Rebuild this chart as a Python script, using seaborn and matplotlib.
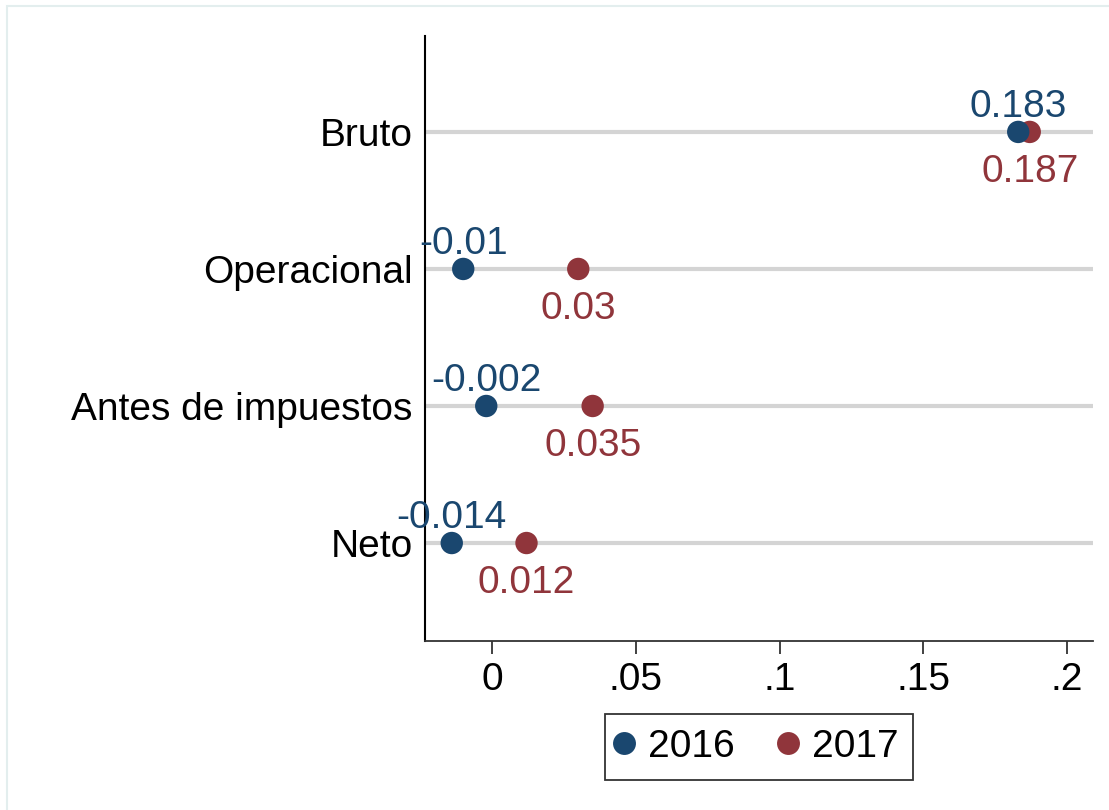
import numpy as np
import pandas as pd
import matplotlib.pyplot as plt
import matplotlib.patches as mpatches
from matplotlib.lines import Line2D
import seaborn as sns

# Datos del gráfico
categorias = ["Bruto", "Operacional", "Antes de impuestos", "Neto"]
valores_2016 = [0.183, -0.01, -0.002, -0.014]
valores_2017 = [0.187, 0.03, 0.035, 0.012]
etiquetas_2016 = ["0.183", "-0.01", "-0.002", "-0.014"]
etiquetas_2017 = ["0.187", "0.03", "0.035", "0.012"]
anios = ["2016", "2017"]
colores = {"2016": "#1a476f", "2017": "#90353b"}

xticks = [0, 0.05, 0.1, 0.15, 0.2]
xtick_labels = ["0", ".05", ".1", ".15", ".2"]

sns.set_theme(style="white")
plt.rcParams['font.family'] = ['Liberation Sans', 'DejaVu Sans']
plt.rcParams['text.color'] = 'black'

# 2017 primero para que 2016 quede encima
pos = {c: i for i, c in enumerate(categorias)}
df = pd.concat([
    pd.DataFrame({"cat": categorias, "valor": valores_2017, "anio": "2017", "etq": etiquetas_2017}),
    pd.DataFrame({"cat": categorias, "valor": valores_2016, "anio": "2016", "etq": etiquetas_2016}),
], ignore_index=True)
df["pos"] = df["cat"].map(pos)

fig = plt.figure(figsize=(11.09, 8.10), dpi=100)
ax = fig.add_axes([425 / 1109, 1 - 641 / 810, (1093 - 425) / 1109, (641 - 36) / 810])

sns.scatterplot(data=df, x="valor", y="pos", hue="anio", hue_order=anios,
                palette=colores, s=260, linewidth=0, legend=False, ax=ax, zorder=3)

# Etiquetas de los puntos
for _, r in df.iterrows():
    if r["anio"] == "2016":
        off = 11
    else:
        off = -36
    ax.annotate(r["etq"], (r["valor"], r["pos"]), xytext=(0, off),
                textcoords="offset points", ha="center", va="baseline",
                fontsize=28, color=colores[r["anio"]], annotation_clip=False, zorder=4)

ax.set_xlim(-0.0233, 0.209)
ax.set_ylim(3.715, -0.70)
ax.set_yticks(range(len(categorias)))
ax.set_yticklabels(categorias)
ax.set_xticks(xticks)
ax.set_xticklabels(xtick_labels)
ax.set_xlabel("")
ax.set_ylabel("")

ax.set_axisbelow(True)
ax.yaxis.grid(True, color="#d4d4d4", linewidth=3)
ax.xaxis.grid(False)

sns.despine(ax=ax, top=True, right=True)
ax.spines["left"].set_color("black")
ax.spines["left"].set_linewidth(1.5)
ax.spines["bottom"].set_color("#333333")
ax.spines["bottom"].set_linewidth(1.3)

ax.tick_params(axis="y", length=0, pad=9, labelsize=28, colors="black")
ax.tick_params(axis="x", direction="out", length=9, width=1.3, color="#333333",
               pad=6, labelsize=28, labelcolor="black", bottom=True)

# Leyenda
handles = [Line2D([], [], marker="o", linestyle="", markersize=16.5,
                  markerfacecolor=colores[a], markeredgewidth=0) for a in anios]
leg = ax.legend(handles, anios, loc="center", bbox_to_anchor=(0.5, -0.175),
                ncol=2, frameon=True, fancybox=False, fontsize=28,
                handletextpad=0.51, columnspacing=1.25, borderpad=0.38,
                handlelength=0.22, borderaxespad=0)
leg.get_frame().set_edgecolor("black")
leg.get_frame().set_linewidth(1.3)
for t in leg.get_texts():
    t.set_color("black")

# Borde claro de la región del gráfico
fig.patches.append(mpatches.Rectangle((7 / 1109, -0.05), 1.1, 1 - 6 / 810 + 0.05,
                                      transform=fig.transFigure, fill=False,
                                      edgecolor="#e3eeee", linewidth=1.5))

fig.savefig("out.png", dpi=100)
